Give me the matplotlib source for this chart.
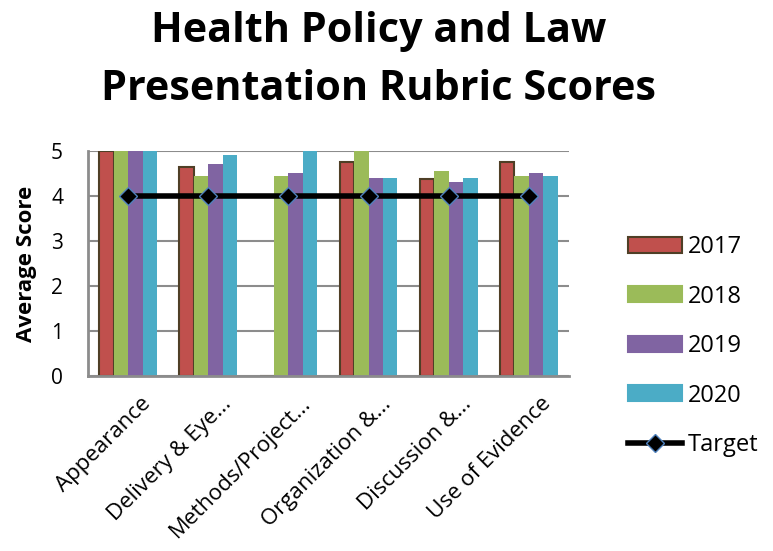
import numpy as np
import matplotlib
matplotlib.use("Agg")
import matplotlib.pyplot as plt
import matplotlib.transforms as mtransforms
from matplotlib.patches import Patch
from matplotlib.lines import Line2D

plt.rcParams["font.family"] = ["Open Sans", "DejaVu Sans"]

categories = ["Appearance", "Delivery & Eye...", "Methods/Project...",
              "Organization &...", "Discussion &...", "Use of Evidence"]
years = ["2017", "2018", "2019", "2020"]
scores_2017 = [5.0, 4.65, 0.0, 4.76, 4.37, 4.76]
scores_2018 = [5.0, 4.45, 4.45, 5.0, 4.55, 4.45]
scores_2019 = [5.0, 4.70, 4.50, 4.39, 4.31, 4.50]
scores_2020 = [5.0, 4.90, 5.0, 4.39, 4.39, 4.45]
target = [4, 4, 4, 4, 4, 4]

series = [scores_2017, scores_2018, scores_2019, scores_2020]
colors = ["#C0504D", "#9BBB59", "#8064A2", "#4BACC6"]
edges = ["#4F3F26", "none", "none", "none"]

fig = plt.figure(figsize=(7.73, 5.51), dpi=100)
ax = fig.add_axes([0.114, 0.318, 0.622, 0.408])

x = np.arange(len(categories))
w = 0.18
for i, (vals, c, ec) in enumerate(zip(series, colors, edges)):
    ax.bar(x + (i - 1.5) * w, vals, width=w, color=c,
           edgecolor=ec, linewidth=1.5 if ec != "none" else 0, zorder=2)

ax.plot(x, target, color="black", lw=4, marker="D", markersize=9,
        markerfacecolor="black", markeredgecolor="#4F81BD",
        markeredgewidth=1, zorder=3)

ax.set_xlim(-0.5, len(categories) - 0.5)
ax.set_ylim(0, 5)
ax.set_yticks(range(6))
ax.yaxis.grid(True, color="#8C8C8C", lw=1.5, zorder=0)
ax.set_axisbelow(True)
for s in ["top", "right"]:
    ax.spines[s].set_visible(False)
for s in ["left", "bottom"]:
    ax.spines[s].set_color("#8C8C8C")
    ax.spines[s].set_linewidth(2)
ax.tick_params(axis="y", length=0, labelsize=15, pad=18)
ax.tick_params(axis="x", length=0, pad=4)
ax.set_xticks(x)
ax.set_xticklabels(categories, rotation=45, ha="right",
                   rotation_mode="anchor", fontsize=16)
shift = mtransforms.ScaledTranslation(12 / 100, -12 / 100, fig.dpi_scale_trans)
for lbl in ax.get_xticklabels():
    lbl.set_transform(lbl.get_transform() + shift)
ax.set_ylabel("Average Score", fontsize=16, fontweight="bold", labelpad=10)

fig.text(0.490, 1 - 42 / 551, "Health Policy and Law", ha="center",
         va="baseline", fontsize=29.8, fontweight="bold")
fig.text(0.490, 1 - 100 / 551, "Presentation Rubric Scores", ha="center",
         va="baseline", fontsize=29.8, fontweight="bold")

handles = [Patch(facecolor=c, edgecolor=ec if ec != "none" else c,
                 linewidth=1.5) for c, ec in zip(colors, edges)]
handles.append(Line2D([0], [0], color="black", lw=4, marker="D",
                      markersize=9, markerfacecolor="black",
                      markeredgecolor="#4F81BD"))
fig.legend(handles, years + ["Target"], loc="center left",
           bbox_to_anchor=(0.812, 0.372), frameon=False, fontsize=17,
           handlelength=2.3, handleheight=0.65, labelspacing=1.08,
           handletextpad=0.25, borderaxespad=0, borderpad=0)

fig.savefig("out.png", dpi=100)
